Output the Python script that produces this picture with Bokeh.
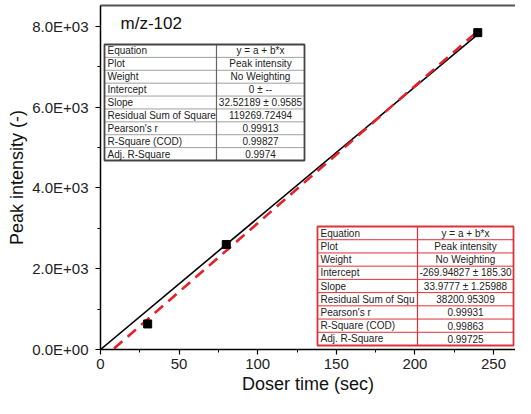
from bokeh.plotting import figure
from bokeh.models import FixedTicker, LinearAxis, Label
from bokeh.core.properties import value
from bokeh.embed import file_html
from bokeh.resources import INLINE

# ---------------- data ----------------
doser_time = [30, 80, 240]
peak_intensity = [633, 2601, 7848]

fit0_intercept = 0.0
fit0_slope = 32.52189
fit1_intercept = -269.94827
fit1_slope = 33.9777
fit_x = [0, 240]

x_ticks = [0, 50, 100, 150, 200, 250]
x_minor = [25, 75, 125, 175, 225, 275]
y_ticks = [0, 2000, 4000, 6000, 8000]
y_minor = [1000, 3000, 5000, 7000]
y_tick_labels = ["0.0E+00", "2.0E+03", "4.0E+03", "6.0E+03", "8.0E+03"]

row_names1 = ["Equation", "Plot", "Weight", "Intercept", "Slope",
              "Residual Sum of Square", "Pearson's r", "R-Square (COD)", "Adj. R-Square"]
row_vals1 = ["y = a + b*x", "Peak intensity", "No Weighting", "0 \u00b1 --",
             "32.52189 \u00b1 0.9585", "119269.72494", "0.99913", "0.99827", "0.9974"]
row_names2 = ["Equation", "Plot", "Weight", "Intercept", "Slope",
              "Residual Sum of Squ", "Pearson's r", "R-Square (COD)", "Adj. R-Square"]
row_vals2 = ["y = a + b*x", "Peak intensity", "No Weighting", "-269.94827 \u00b1 185.30",
             "33.9777 \u00b1 1.25988", "38200.95309", "0.99931", "0.99863", "0.99725"]

# ---------------- layout ----------------
ORIGIN = 1          # observed picture offset of the figure's top-left corner
W, H = 515, 398
BL, BR, BT, BB = 100, 0, 5, 49
FRAME_L, FRAME_R = ORIGIN + BL, ORIGIN + W - BR
FRAME_T, FRAME_B = ORIGIN + BT, ORIGIN + H - BB
X_END = (FRAME_R - FRAME_L) / 1.572
Y_END = 8520
FONT = "Liberation Sans"


def dx(px):
    return (px - FRAME_L) / (FRAME_R - FRAME_L) * X_END


def dy(py):
    return (FRAME_B - py) / (FRAME_B - FRAME_T) * Y_END


p = figure(width=W, height=H, x_range=(0, X_END), y_range=(0, Y_END),
           output_backend="svg", toolbar_location=None,
           min_border_left=BL, min_border_right=BR, min_border_top=BT,
           min_border_bottom=BB)
p.outline_line_color = None
p.grid.visible = False
p.background_fill_color = "white"

for ax in (p.xaxis[0], p.yaxis[0]):
    ax.major_tick_out = 5
    ax.major_tick_in = 0
    ax.minor_tick_out = 3
    ax.minor_tick_in = 0
    ax.axis_line_width = 1.5
    ax.axis_line_color = "black"
    ax.major_tick_line_color = "black"
    ax.minor_tick_line_color = "black"
    ax.major_tick_line_width = 1.2
    ax.major_label_text_font = FONT
    ax.major_label_text_font_size = "15px"
    ax.major_label_text_color = "#222222"
    ax.axis_label_text_font = FONT
    ax.axis_label_text_font_size = "18px"
    ax.axis_label_text_font_style = "normal"
    ax.axis_label_text_color = "#111111"

p.xaxis.major_label_standoff = 4
p.yaxis.major_label_standoff = 7
p.xaxis.ticker = FixedTicker(ticks=x_ticks, minor_ticks=x_minor)
p.yaxis.ticker = FixedTicker(ticks=y_ticks, minor_ticks=y_minor)
p.yaxis.major_label_overrides = {t: l for t, l in zip(y_ticks, y_tick_labels)}
p.xaxis.axis_label = "Doser time (sec)"
p.yaxis.axis_label = "Peak intensity (-)"
p.xaxis.axis_label_standoff = 2
p.yaxis.axis_label_standoff = 2

top_axis = LinearAxis(ticker=FixedTicker(ticks=[], minor_ticks=[]),
                      major_tick_out=0, major_tick_in=0, minor_tick_out=0, minor_tick_in=0,
                      major_label_standoff=0,
                      axis_line_color="#555555", axis_line_width=2)
p.add_layout(top_axis, "above")

# ---------------- fit lines and points ----------------
fit0_y = [fit0_intercept + fit0_slope * x for x in fit_x]
fit1_y = [fit1_intercept + fit1_slope * x for x in fit_x]
p.line(fit_x, fit0_y, line_color="black", line_width=1.6)
p.line(fit_x, fit1_y, line_color="#e4202a", line_width=2.6, line_dash="11 7")
p.scatter(doser_time, peak_intensity, marker="square", size=8, fill_color="black",
          line_color="black")

# ---------------- title ----------------
p.add_layout(Label(x=dx(121), y=dy(24), text="m/z-102", text_font=FONT,
                   text_font_size="17px", text_baseline="middle", text_align="left",
                   text_color="#111111"))


# ---------------- tables ----------------
def draw_table(names, vals, left, split, right, top, bottom, outer_color, inner_color,
               col_color, outer_w):
    n = len(names)
    rh = (bottom - top) / n
    p.quad(left=[dx(left)], right=[dx(right)], top=[dy(top)], bottom=[dy(bottom)],
           fill_color="white", line_color=None)
    ys = [top + rh * i for i in range(1, n)]
    p.segment(x0=[dx(left)] * len(ys), x1=[dx(right)] * len(ys),
              y0=[dy(y) for y in ys], y1=[dy(y) for y in ys],
              line_color=inner_color, line_width=1)
    p.segment(x0=[dx(split)], x1=[dx(split)], y0=[dy(top)], y1=[dy(bottom)],
              line_color=col_color, line_width=1.2)
    p.quad(left=[dx(left)], right=[dx(right)], top=[dy(top)], bottom=[dy(bottom)],
           fill_color=None, line_color=outer_color, line_width=outer_w)
    cy = [dy(top + rh * (i + 0.5)) for i in range(n)]
    p.text(x=[dx(left + 3)] * n, y=cy, text=names, text_font=value(FONT),
           text_font_size="10px", text_baseline="middle", text_align="left",
           text_color="#222222")
    p.text(x=[dx((split + right) / 2)] * n, y=cy, text=vals, text_font=value(FONT),
           text_font_size="10px", text_baseline="middle", text_align="center",
           text_color="#222222")


draw_table(row_names1, row_vals1, 105, 217, 305, 45, 161, "#444444", "#a0a0a0", "#666666", 1.8)
draw_table(row_names2, row_vals2, 318, 418, 514, 227, 346, "#e0303a", "#e0303a", "#e0303a", 1.8)

open("out.html", "w").write(file_html(p, INLINE))
